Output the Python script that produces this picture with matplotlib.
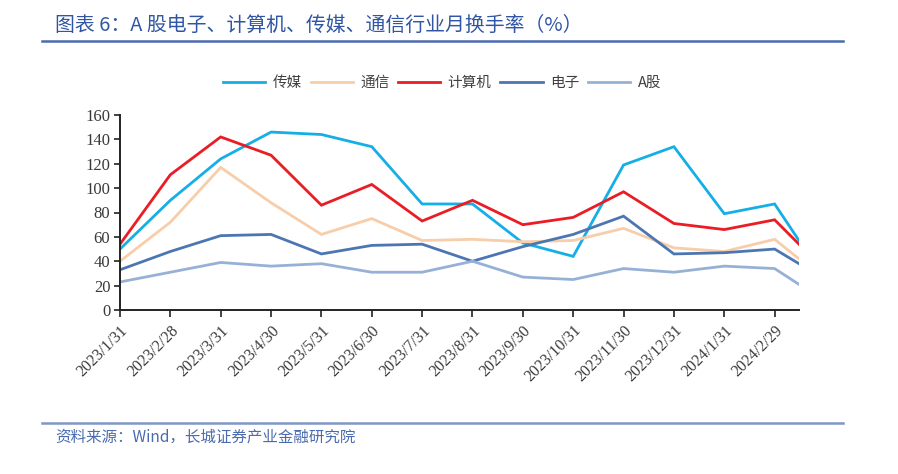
import matplotlib
matplotlib.use("Agg")
import matplotlib.pyplot as plt
from matplotlib.lines import Line2D
import pandas as pd
import numpy as np

plt.rcParams['font.family'] = ['Noto Sans CJK SC', 'DejaVu Sans']

dates = ["2023-01-31", "2023-02-28", "2023-03-31", "2023-04-30", "2023-05-31",
         "2023-06-30", "2023-07-31", "2023-08-31", "2023-09-30", "2023-10-31",
         "2023-11-30", "2023-12-31", "2024-01-31", "2024-02-29", "2024-03-15"]
tick_labels = ["2023/1/31", "2023/2/28", "2023/3/31", "2023/4/30", "2023/5/31",
               "2023/6/30", "2023/7/31", "2023/8/31", "2023/9/30", "2023/10/31",
               "2023/11/30", "2023/12/31", "2024/1/31", "2024/2/29"]

chuanmei = [50, 90, 124, 146, 144, 134, 87, 87, 55, 44, 119, 134, 79, 87, 57]
tongxin = [40, 72, 117, 88, 62, 75, 57, 58, 56, 57, 67, 51, 48, 58, 42]
jisuanji = [54, 111, 142, 127, 86, 103, 73, 90, 70, 76, 97, 71, 66, 74, 54]
dianzi = [33, 48, 61, 62, 46, 53, 54, 40, 52, 62, 77, 46, 47, 50, 38]
agu = [23, 31, 39, 36, 38, 31, 31, 40, 27, 25, 34, 31, 36, 34, 21]

series = [
    ("传媒", chuanmei, "#16AEE6"),
    ("通信", tongxin, "#F7CDAA"),
    ("计算机", jisuanji, "#EA1C24"),
    ("电子", dianzi, "#4C76B2"),
    ("A股", agu, "#97B1D6"),
]

# position on a month-based axis: month-ends are whole numbers
d = pd.to_datetime(dates)
start = d[0]
xpos = ((d.year - start.year) * 12 + (d.month - start.month)
        + (d.day / d.days_in_month) - 1.0).to_numpy(dtype=float)

fig = plt.figure(figsize=(8.98, 4.74), dpi=100)
ax = fig.add_axes([120 / 898, 1 - 310 / 474, 679 / 898, 195 / 474])

for name, vals, col in series:
    ax.plot(xpos, vals, color=col, lw=2.0, label=name, solid_joinstyle='miter')

ax.set_xlim(xpos[0], xpos[-1])
ax.set_ylim(0, 160)
ax.set_yticks(np.arange(0, 161, 20))
ax.set_xticks(xpos[:len(tick_labels)])
ax.set_xticklabels(tick_labels, rotation=45, ha='right', rotation_mode='anchor',
                   family=['Liberation Serif'], fontsize=11.5, color='#3A3A3A')
for lab in ax.get_yticklabels():
    lab.set_family(['Liberation Serif'])
    lab.set_fontsize(12)
    lab.set_color('#3A3A3A')
ax.tick_params(axis='x', length=5, width=1.2, direction='out', pad=4, color='#222222')
ax.tick_params(axis='y', length=4, width=1.2, direction='out', pad=3, color='#222222')
for s in ['top', 'right']:
    ax.spines[s].set_visible(False)
for s in ['left', 'bottom']:
    ax.spines[s].set_linewidth(1.4)
    ax.spines[s].set_color('#222222')

leg = fig.legend(loc='center', bbox_to_anchor=(442 / 898, 1 - 83 / 474), ncol=5,
                 frameon=False, fontsize=10.5, handlelength=2.9, columnspacing=0.6,
                 handletextpad=0.5)
for t in leg.get_texts():
    t.set_color('#404040')

# title and rules
fig.text(55 / 898, 1 - 25 / 474, "图表 6：A 股电子、计算机、传媒、通信行业月换手率（%）",
         ha='left', va='center', fontsize=14.3, color='#2F55A4', style='italic')
fig.add_artist(Line2D([42 / 898, 843 / 898], [1 - 41 / 474, 1 - 41 / 474],
                      color='#4A6BAE', lw=1.8))
fig.add_artist(Line2D([42 / 898, 843 / 898], [1 - 423 / 474, 1 - 423 / 474],
                      color='#7D97C6', lw=1.8))
fig.text(55 / 898, 1 - 437 / 474, "资料来源：Wind，长城证券产业金融研究院",
         ha='left', va='center', fontsize=11.2, color='#4A6BB0', style='italic')

fig.savefig("out.png", dpi=100)
